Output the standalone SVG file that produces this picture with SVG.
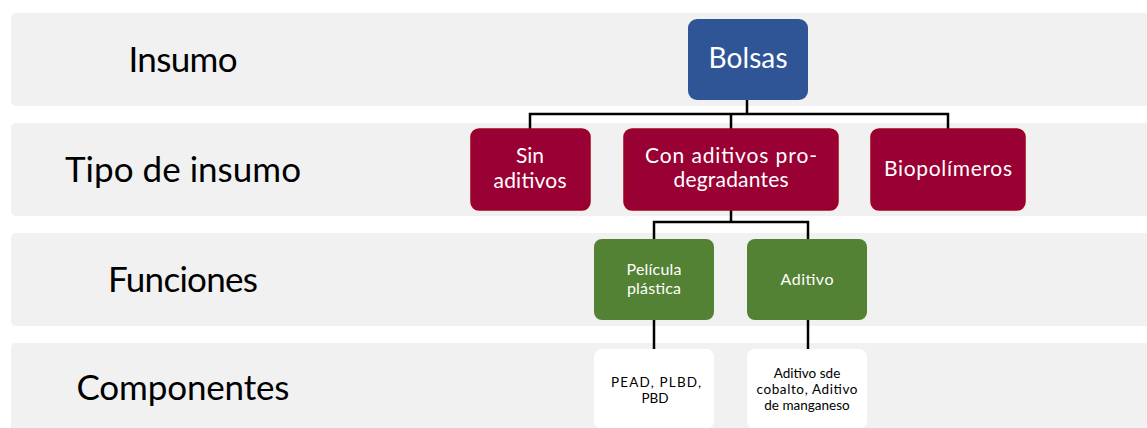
<svg xmlns="http://www.w3.org/2000/svg" width="1147" height="428" viewBox="0 0 1147 428">
<style>
.band{fill:#f1f1f1}
.lbl{font-family:Lato,"Liberation Sans",sans-serif;font-size:35px;fill:#000;text-anchor:middle}
.t{font-family:Lato,"Liberation Sans",sans-serif;text-anchor:middle}
.w{fill:#fff}
.k{fill:#000}
.blue{fill:#2f5597}
.red{fill:#990033;stroke:#a0001e;stroke-width:1.5}
.green{fill:#548235}
.white{fill:#fff}
.con{fill:none;stroke:#000;stroke-width:2.5}
</style>
<rect x="0" y="0" width="1147" height="428" fill="#fff"/>
<g id="bands">
<rect class="band" x="11" y="13" width="1150" height="93" rx="5"/>
<rect class="band" x="11" y="123" width="1150" height="93" rx="5"/>
<rect class="band" x="11" y="233" width="1150" height="93" rx="5"/>
<rect class="band" x="11" y="343" width="1150" height="100" rx="5"/>
</g>
<g id="row-labels">
<text class="lbl" x="183" y="72" textLength="109">Insumo</text>
<text class="lbl" x="183" y="182" textLength="236">Tipo de insumo</text>
<text class="lbl" x="183" y="292" textLength="150">Funciones</text>
<text class="lbl" x="183" y="400" textLength="213">Componentes</text>
</g>
<g id="connectors">
<path class="con" d="M747 100V114M530 130V114H948V130M731 114V130"/>
<path class="con" d="M731 210V222M654 239V222H808V239"/>
<path class="con" d="M654 320V349M808 320V349"/>
</g>
<g id="bolsas">
<rect class="blue" x="688" y="19" width="120" height="81" rx="9"/>
<text class="t w" x="748" y="68" font-size="28" textLength="79">Bolsas</text>
</g>
<g id="sin-aditivos">
<rect class="red" x="471" y="129" width="119" height="81" rx="8"/>
<text class="t w" x="530" y="163" font-size="21">Sin</text>
<text class="t w" x="530" y="188" font-size="21" textLength="73">aditivos</text>
</g>
<g id="con-aditivos">
<rect class="red" x="624" y="129" width="214" height="81" rx="8"/>
<text class="t w" x="731" y="163" font-size="21" textLength="172">Con aditivos pro-</text>
<text class="t w" x="731" y="187" font-size="21" textLength="115">degradantes</text>
</g>
<g id="biopolimeros">
<rect class="red" x="871" y="129" width="154" height="81" rx="8"/>
<text class="t w" x="948" y="176" font-size="21" textLength="128">Biopolímeros</text>
</g>
<g id="pelicula">
<rect class="green" x="594" y="239" width="120" height="81" rx="8"/>
<text class="t w" x="654" y="275" font-size="16" textLength="55">Película</text>
<text class="t w" x="654" y="294" font-size="16" textLength="54">plástica</text>
</g>
<g id="aditivo">
<rect class="green" x="747" y="239" width="120" height="81" rx="8"/>
<text class="t w" x="807" y="285" font-size="16" textLength="53">Aditivo</text>
</g>
<g id="pead">
<rect class="white" x="594" y="349" width="120" height="80" rx="8"/>
<text class="t k" x="656" y="387" font-size="13.5" textLength="90">PEAD, PLBD,</text>
<text class="t k" x="655" y="403" font-size="13.5">PBD</text>
</g>
<g id="aditivo-cobalto">
<rect class="white" x="747" y="349" width="120" height="80" rx="8"/>
<text class="t k" x="807" y="378" font-size="13.5">Aditivo sde</text>
<text class="t k" x="807" y="394" font-size="13.5" textLength="101">cobalto, Aditivo</text>
<text class="t k" x="807" y="410" font-size="13.5">de manganeso</text>
</g>
</svg>
